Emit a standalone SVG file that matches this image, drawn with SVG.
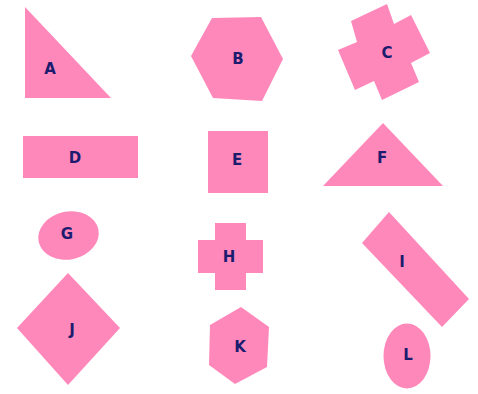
<svg xmlns="http://www.w3.org/2000/svg" width="478" height="394" viewBox="0 0 478 394">
<style>
.s{fill:#ff88bb;}
.t{font-family:"DejaVu Sans","Liberation Sans",sans-serif;font-weight:bold;font-size:15px;fill:#1c1c6e;text-anchor:middle;dominant-baseline:central;}
</style>
<rect width="478" height="394" fill="#ffffff"/>
<g id="A"><polygon class="s" points="25,7 25,98 111,98"/><text class="t" x="50" y="69">A</text></g>
<g id="B"><polygon class="s" points="212,18 261,17 283,59 262,101 213,98 191,56"/><text class="t" x="238" y="59">B</text></g>
<g id="C"><polygon class="s" points="351,21 387,4 394,24 411,15 430,53 411,63 419,82 382,100 374,81 355,90 338,50 357,42"/><text class="t" x="387" y="53">C</text></g>
<g id="D"><rect class="s" x="23" y="136" width="115" height="42"/><text class="t" x="75" y="158">D</text></g>
<g id="E"><rect class="s" x="208" y="131" width="60" height="62"/><text class="t" x="237" y="160">E</text></g>
<g id="F"><polygon class="s" points="383,123 323,186 443,186"/><text class="t" x="382" y="158">F</text></g>
<g id="G"><ellipse class="s" cx="68.5" cy="235.5" rx="30.5" ry="24" transform="rotate(-12 68.5 235.5)"/><text class="t" x="67" y="234">G</text></g>
<g id="H"><polygon class="s" points="215,223 246,223 246,240 263,240 263,273 246,273 246,290 215,290 215,273 198,273 198,240 215,240"/><text class="t" x="229" y="257">H</text></g>
<g id="I"><polygon class="s" points="389,212 469,299 442,327 362,243"/><text class="t" x="402" y="262">I</text></g>
<g id="J"><polygon class="s" points="68,273 120,328 68,385 17,328"/><text class="t" x="72" y="330">J</text></g>
<g id="K"><polygon class="s" points="241,307 269,327 267,367 235,384 209,365 210,325"/><text class="t" x="240" y="347">K</text></g>
<g id="L"><ellipse class="s" cx="407" cy="356" rx="23.5" ry="32.5"/><text class="t" x="408" y="355">L</text></g>
</svg>
